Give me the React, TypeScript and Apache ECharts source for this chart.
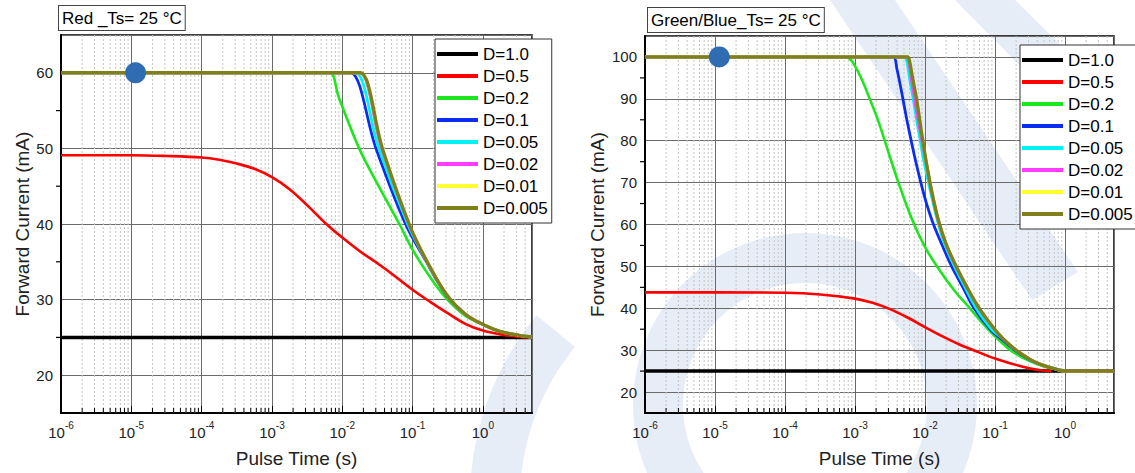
import React, { useEffect, useRef } from 'react';
import * as echarts from 'echarts';

const FONT = '"Liberation Sans", Arial, Helvetica, sans-serif';

// ---------- legend / series styling ----------
const seriesNames = ['D=1.0', 'D=0.5', 'D=0.2', 'D=0.1', 'D=0.05', 'D=0.02', 'D=0.01', 'D=0.005'];
const seriesColors = ['#000000', '#ff0000', '#1ee61e', '#0b2df2', '#00f2f2', '#ff3cff', '#ffff30', '#7f7f1c'];
const seriesWidths = [3.5, 2.6, 2.6, 2.8, 2.8, 2.8, 2.8, 3.4];

// ---------- Red panel (time s, current mA) ----------
const redD10 = [[1e-6, 25], [5, 25]];
const redD05 = [[1e-6, 49.1], [1e-5, 49.1], [3.16e-5, 49.0], [1e-4, 48.8], [1.78e-4, 48.5], [3.16e-4, 48.0], [5.62e-4, 47.3], [1e-3, 46.2], [1.78e-3, 44.6], [3.16e-3, 42.5], [5.62e-3, 40.2], [0.01, 38.2], [0.0178, 36.4], [0.0316, 34.8], [0.0562, 33.1], [0.1, 31.3], [0.178, 29.7], [0.316, 28.2], [0.562, 26.8], [1, 25.9], [1.78, 25.4], [3.16, 25.1], [5, 25.0]];
const redD02 = [[1e-6, 60], [5e-3, 60], [6.8e-3, 60], [8.9e-3, 56.8], [0.0174, 50], [0.033, 45], [0.065, 40], [0.1, 36.6], [0.174, 33.1], [0.3, 30.2], [0.575, 27.8], [1.12, 26.5], [1.74, 25.8], [3.16, 25.3], [5, 25.1]];
const redD01 = [[1e-6, 60], [0.01, 60], [0.0132, 60], [0.0302, 50], [0.0794, 40], [0.155, 35.1], [0.302, 30.6], [0.575, 28.0], [1.12, 26.5], [1.74, 25.8], [3.16, 25.3], [5, 25.05]];
const redD005 = [[1e-6, 60], [0.0115, 60], [0.0155, 60], [0.0331, 50], [0.0851, 40], [0.155, 35.2], [0.302, 30.7], [0.575, 28.0], [1.12, 26.5], [1.74, 25.8], [3.16, 25.3], [5, 25.05]];
const redD002 = [[1e-6, 60], [0.013, 60], [0.0178, 60], [0.0363, 50], [0.089, 40], [0.155, 35.3], [0.302, 30.7], [0.575, 28.0], [1.12, 26.5], [1.74, 25.8], [3.16, 25.3], [5, 25.05]];
const redD001 = [[1e-6, 60], [0.0133, 60], [0.018, 60], [0.037, 50], [0.089, 40], [0.155, 35.3], [0.302, 30.7], [0.575, 28.0], [1.12, 26.5], [1.74, 25.8], [3.16, 25.3], [5, 25.05]];
const redD0005 = [[1e-6, 60], [0.0135, 60], [0.0182, 60], [0.0372, 50], [0.0891, 40], [0.155, 35.3], [0.302, 30.7], [0.575, 28.0], [1.12, 26.5], [1.74, 25.8], [3.16, 25.3], [5, 25.05]];
const redDot = [[1.15e-5, 60]];

// ---------- Green/Blue panel ----------
const gbD10 = [[1e-6, 25], [5, 25]];
const gbD05 = [[1e-6, 43.8], [1e-5, 43.8], [1e-4, 43.7], [3.16e-4, 43.3], [1e-3, 42.3], [1.78e-3, 41.3], [3.16e-3, 39.8], [5.62e-3, 37.8], [0.01, 35.5], [0.0178, 33.3], [0.0316, 31.3], [0.0562, 29.6], [0.1, 28.0], [0.178, 26.7], [0.316, 25.6], [0.447, 25.2], [0.631, 25.0]];
const gbD02 = [[1e-6, 100], [5.5e-4, 100], [7.24e-4, 100], [8.32e-4, 99.6], [9.55e-4, 98.4], [1.26e-3, 94.5], [1.62e-3, 90.0], [2.14e-3, 84.8], [3.02e-3, 77.1], [4.17e-3, 70.0], [6.46e-3, 61.4], [0.01, 54.6], [0.0155, 49.5], [0.0269, 44.0], [0.0437, 40.0], [0.0794, 35.0], [0.166, 30.0], [0.302, 27.5], [0.525, 26.0], [0.891, 25.2], [1, 25]];
const gbD01 = [[1e-6, 100], [2.8e-3, 100], [3.55e-3, 100], [3.98e-3, 97.0], [4.57e-3, 92.1], [5.62e-3, 84.2], [7.08e-3, 76.3], [8.71e-3, 70.0], [0.0105, 65.0], [0.0129, 60.5], [0.0166, 56.0], [0.024, 50.0], [0.0347, 45.0], [0.0501, 40.0], [0.0851, 35.0], [0.126, 32.5], [0.191, 30.0], [0.331, 27.5], [0.575, 26.0], [0.794, 25.3], [1, 25]];
const gbD005 = [[1e-6, 100], [4e-3, 100], [5.01e-3, 100], [6.17e-3, 93.7], [7.59e-3, 85.0], [9.33e-3, 76.3], [0.0117, 68.5], [0.0148, 61.4], [0.0186, 55.8], [0.0263, 50.0], [0.0372, 45.0], [0.0537, 40.0], [0.0891, 35.0], [0.135, 32.5], [0.2, 30.0], [0.339, 27.5], [0.589, 26.0], [0.813, 25.3], [1, 25]];
const gbD002 = [[1e-6, 100], [4.2e-3, 100], [5.37e-3, 100], [6.46e-3, 94.0], [7.59e-3, 87.0], [9.12e-3, 79.5], [0.0105, 74.5], [0.0126, 67.5], [0.0155, 61.0], [0.02, 55.3], [0.0282, 49.8], [0.0398, 45.0], [0.0562, 40.6], [0.0794, 37.0], [0.112, 33.9], [0.158, 31.4], [0.224, 29.4], [0.316, 27.8], [0.447, 26.6], [0.631, 25.8], [0.832, 25.2], [1, 25], [5, 25]];
const gbD001 = [[1e-6, 100], [4.4e-3, 100], [5.62e-3, 100], [6.03e-3, 98.8], [6.46e-3, 96.0], [7.59e-3, 89.7], [8.91e-3, 81.9], [0.0105, 74.5], [0.0126, 67.5], [0.0155, 61.0], [0.02, 55.3], [0.0282, 49.8], [0.0398, 45.0], [0.0562, 40.6], [0.0794, 37.0], [0.112, 33.9], [0.158, 31.4], [0.224, 29.4], [0.316, 27.8], [0.447, 26.6], [0.631, 25.8], [0.832, 25.2], [1, 25], [5, 25]];
const gbD0005 = [[1e-6, 100], [4.4e-3, 100], [5.62e-3, 100], [6.03e-3, 98.8], [6.46e-3, 96.0], [7.59e-3, 89.7], [8.91e-3, 81.9], [0.0105, 74.5], [0.0126, 67.5], [0.0155, 61.0], [0.02, 55.3], [0.0282, 49.8], [0.0398, 45.0], [0.0562, 40.6], [0.0794, 37.0], [0.112, 33.9], [0.158, 31.4], [0.224, 29.4], [0.316, 27.8], [0.447, 26.6], [0.631, 25.8], [0.832, 25.2], [1, 25], [5, 25]];
const gbDot = [[1.15e-5, 100]];

// ---------- axis structure ----------
const decadeExponents = [-6, -5, -4, -3, -2, -1, 0];
const minorMantissas = [2, 3, 4, 5, 6, 7, 8, 9];
const redYMinorTicks = [25, 35, 45, 55];
const gbYMinorTicks = [25, 35, 45, 55, 65, 75, 85, 95];
const redRange = [15, 65];
const gbRange = [15, 105];

const minorXTicks: number[] = [];
decadeExponents.forEach((e) => minorMantissas.forEach((m) => {
  const v = m * Math.pow(10, e);
  if (v < 5) minorXTicks.push(v);
}));

function xLabel(v: number) {
  const e = Math.log10(v);
  const r = Math.round(e);
  if (Math.abs(e - r) > 1e-6) return '';
  return `{b|10}{s|${r}}`;
}

function makeXAxis(idx: number) {
  return {
    type: 'log', logBase: 10, gridIndex: idx, min: 1e-6, max: 5, splitNumber: 7,
    axisLine: { show: true, lineStyle: { color: '#000', width: 2 } },
    axisTick: { show: true, inside: true, length: 7, lineStyle: { color: '#000', width: 1 } },
    axisLabel: {
      formatter: xLabel, margin: 7, showMaxLabel: false,
      rich: {
        b: { fontSize: 15, fontFamily: FONT, color: '#222', lineHeight: 20, verticalAlign: 'bottom' },
        s: { fontSize: 10, fontFamily: FONT, color: '#222', lineHeight: 11, verticalAlign: 'top' },
      },
    },
    splitLine: { show: true, lineStyle: { color: '#6a6a6a', width: 1 } },
    name: 'Pulse Time (s)', nameLocation: 'middle', nameGap: 36,
    nameTextStyle: { fontSize: 19, fontFamily: FONT, color: '#222' },
  };
}

function makeYAxis(idx: number, range: number[], split: number, gap: number) {
  return {
    type: 'value', gridIndex: idx, min: range[0], max: range[1], splitNumber: split,
    axisLine: { show: true, lineStyle: { color: '#000', width: 2 } },
    axisTick: { show: false },
    axisLabel: {
      formatter: (v: number) => (v % 10 === 0 ? String(v) : ''),
      fontSize: 15, fontFamily: FONT, color: '#222', margin: 8,
    },
    splitLine: { show: true, lineStyle: { color: '#6a6a6a', width: 1 } },
    name: 'Forward Current (mA)', nameLocation: 'middle', nameGap: gap,
    nameTextStyle: { fontSize: 19, fontFamily: FONT, color: '#222' },
  };
}

function minorGridSeries(idx: number, range: number[]) {
  return {
    type: 'custom', xAxisIndex: idx, yAxisIndex: idx, silent: true, z: 1, clip: false,
    encode: { x: 0, y: 1 },
    data: minorXTicks.map((v) => [v, range[0]]),
    renderItem: (_p: any, api: any) => {
      const v = api.value(0);
      const top = api.coord([v, range[1]]);
      const bot = api.coord([v, range[0]]);
      return {
        type: 'group',
        children: [
          { type: 'line', shape: { x1: top[0], y1: top[1], x2: bot[0], y2: bot[1] }, style: { stroke: '#c4c4c4', lineWidth: 1, lineDash: [2, 2] } },
          { type: 'line', shape: { x1: bot[0], y1: bot[1], x2: bot[0], y2: bot[1] - 5 }, style: { stroke: '#000', lineWidth: 1 } },
        ],
      };
    },
  };
}

function yMinorTickSeries(idx: number, ticks: number[]) {
  return {
    type: 'custom', xAxisIndex: idx, yAxisIndex: idx, silent: true, z: 3, clip: false,
    encode: { x: 0, y: 1 },
    data: ticks.map((t) => [1e-6, t]),
    renderItem: (_p: any, api: any) => {
      const c = api.coord([api.value(0), api.value(1)]);
      return { type: 'line', shape: { x1: c[0] - 5, y1: c[1], x2: c[0], y2: c[1] }, style: { stroke: '#000', lineWidth: 1.2 } };
    },
  };
}

function lineSeries(idx: number, datas: number[][][]) {
  return datas.map((d, i) => ({
    type: 'line', name: seriesNames[i], xAxisIndex: idx, yAxisIndex: idx, data: d,
    showSymbol: false, symbol: 'none', smooth: 0.35, z: 3 + i * 0.01,
    lineStyle: { color: seriesColors[i], width: seriesWidths[i] },
    itemStyle: { color: seriesColors[i] },
  }));
}

function dotSeries(idx: number, d: number[][]) {
  return {
    type: 'scatter', xAxisIndex: idx, yAxisIndex: idx, data: d, symbolSize: 21, z: 5, silent: true,
    itemStyle: { color: '#2f6cb2', opacity: 1 },
  };
}

function legend(left: number, top: number) {
  return {
    show: true, orient: 'vertical', left, top, data: seriesNames,
    icon: 'rect', itemWidth: 41, itemHeight: 4, itemGap: 4,
    padding: [6, 4, 6, 2], backgroundColor: '#fff', borderColor: '#333', borderWidth: 1,
    borderRadius: 0, selectedMode: false,
    textStyle: { fontSize: 17, fontFamily: FONT, color: '#000', lineHeight: 18 },
  };
}

const WM = 'rgba(40, 90, 170, 0.11)';

const option: any = {
  animation: false,
  backgroundColor: '#fff',
  grid: [
    { left: 61, top: 35, width: 471, height: 380, show: true, borderColor: '#000', borderWidth: 1.5, backgroundColor: 'transparent' },
    { left: 645, top: 36, width: 469, height: 379, show: true, borderColor: '#000', borderWidth: 1.5, backgroundColor: 'transparent' },
  ],
  xAxis: [makeXAxis(0), makeXAxis(1)],
  yAxis: [makeYAxis(0, redRange, 5, 29), makeYAxis(1, gbRange, 9, 38)],
  legend: [legend(435, 39), legend(1020, 45)],
  graphic: [
    { type: 'ring', z: -1, shape: { cx: 805, cy: 405, r: 172, r0: 122 }, style: { fill: WM } },
    { type: 'sector', z: -1, shape: { cx: 760, cy: 500, r: 290, r0: 240, startAngle: Math.PI * 0.92, endAngle: Math.PI * 1.22, clockwise: true }, style: { fill: WM } },
    { type: 'polygon', z: -1, shape: { points: [[830, 0], [895, 0], [1078, 272], [1032, 300]] }, style: { fill: WM } },
    { type: 'polygon', z: -1, shape: { points: [[955, 0], [1015, 0], [1135, 118], [1135, 182]] }, style: { fill: WM } },
    {
      type: 'text', x: 59, y: 6, z: 10,
      style: { text: 'Red _Ts= 25 °C', font: `17px ${FONT}`, fill: '#000', backgroundColor: '#fff', borderColor: '#444', borderWidth: 1, padding: [4, 3, 3, 3], verticalAlign: 'top' },
    },
    {
      type: 'text', x: 648, y: 8, z: 10,
      style: { text: 'Green/Blue_Ts= 25 °C', font: `17px ${FONT}`, fill: '#000', backgroundColor: '#fff', borderColor: '#444', borderWidth: 1, padding: [4, 3, 3, 3], verticalAlign: 'top' },
    },
  ],
  series: [
    minorGridSeries(0, redRange),
    minorGridSeries(1, gbRange),
    yMinorTickSeries(0, redYMinorTicks),
    yMinorTickSeries(1, gbYMinorTicks),
    ...lineSeries(0, [redD10, redD05, redD02, redD01, redD005, redD002, redD001, redD0005]),
    ...lineSeries(1, [gbD10, gbD05, gbD02, gbD01, gbD005, gbD002, gbD001, gbD0005]),
    dotSeries(0, redDot),
    dotSeries(1, gbDot),
  ],
};

export default function App() {
  const ref = useRef<HTMLDivElement>(null);
  useEffect(() => {
    const chart = echarts.init(ref.current!, null, { renderer: 'svg' });
    chart.setOption(option);
    return () => chart.dispose();
  }, []);
  return (
    <div
      ref={ref}
      style={{ position: 'fixed', left: 0, top: 0, width: 1135, height: 473, background: '#fff' }}
    />
  );
}
